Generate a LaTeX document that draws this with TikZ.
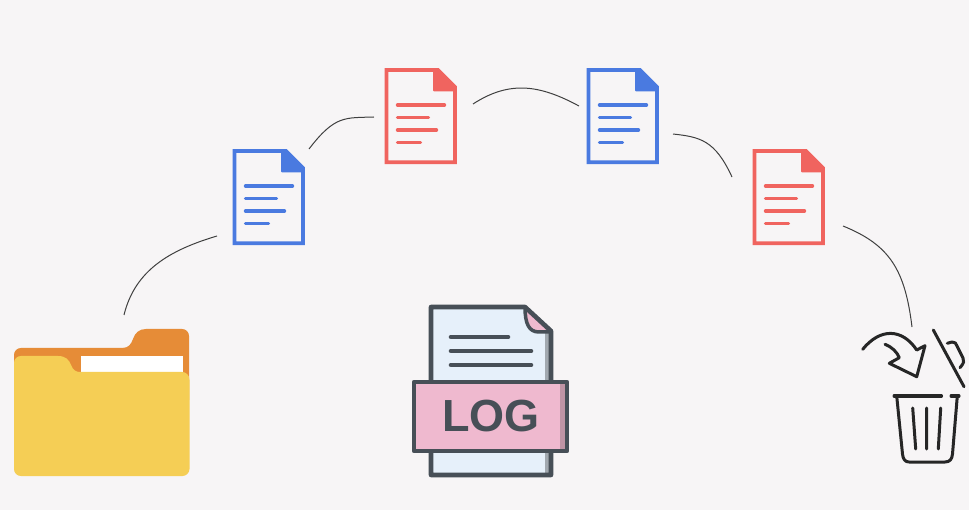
\documentclass[tikz,border=0pt]{standalone}
\usepackage{fontspec}
\setsansfont{Liberation Sans}
\definecolor{paper}{HTML}{F7F5F6}
\definecolor{docblue}{HTML}{4A7AE0}
\definecolor{docred}{HTML}{F0645F}
\definecolor{folderback}{HTML}{E68C37}
\definecolor{folderfront}{HTML}{F5CE55}
\definecolor{logdark}{HTML}{474F57}
\definecolor{logpaper}{HTML}{E6F0FA}
\definecolor{logpink}{HTML}{EFB9CF}
\tikzset{link/.style={draw=black!75,line width=1pt},
         binline/.style={draw=black!85,line width=3pt,line cap=round,line join=round},
         logline/.style={draw=logdark,line width=4.6pt,line cap=round,line join=round},
         docicon/.pic={
           \coordinate (-box) at (35.5,47);
           \draw[#1,line width=3.8pt,line join=miter] (1.5,1.5) -- (53,1.5) -- (70,18.5) -- (70,93.8) -- (1.5,93.8) -- cycle;
           \fill[#1,rounded corners=1pt] (48,0) -- (53,0) -- (71.5,18) -- (71.5,23) -- (48,23) -- cycle;
           \foreach \yy/\xx in {36.5/59.5,49/43.5,61.5/51.5,74/35.5}
             {\draw[#1,line width=3.4pt,line cap=round] (12.5,\yy) -- (\xx,\yy);}
         }}
\begin{document}
\begin{tikzpicture}[x=1pt,y=-1pt]
\fill[paper] (0,0) rectangle (969,510);
\useasboundingbox (0,0) rectangle (969,510);

%%four pages on the arc
\pic (docA) at (233,149.5) {docicon=docblue};
\pic (docB) at (385,68.5) {docicon=docred};
\pic (docC) at (587,68.5) {docicon=docblue};
\pic (docD) at (753,149.5) {docicon=docred};

%%folder
\fill[folderback] (14,400) -- (14,355) .. controls (14,351) and (17,348) .. (21,348) -- (122,348) .. controls (129,348) and (131,344) .. (133,339) .. controls (135,333) and (139,329) .. (146,329) -- (182,329) .. controls (186,329) and (189,332) .. (189,336) -- (189,400) -- cycle;
\fill[white] (80.5,356.5) rectangle (182.5,373);
\fill[folderfront] (14,469) -- (14,363) .. controls (14,359) and (17,356) .. (21,356) -- (58,356) .. controls (66,356) and (69,360) .. (71,365) .. controls (73,370) and (76,372) .. (80,372) -- (182,372) .. controls (186,372) and (189.5,375) .. (189.5,380) -- (189.5,469) .. controls (189.5,473) and (186,476) .. (182.5,476) -- (21,476) .. controls (17,476) and (14,473) .. (14,469) -- cycle;
\coordinate (folder) at (101,329);

%%log file
\fill[logpaper] (431,307) -- (525,307) -- (551,331) -- (551,475) -- (431,475) -- cycle;
\fill[black!30!logpaper] (545,331) rectangle (551,475);
\fill[logpink] (525,307) -- (551,331) -- (536,331) .. controls (529,330) and (525,324) .. (525,307);
\draw[logline] (431,307) -- (525,307) -- (551,331) -- (551,475) -- (431,475) -- cycle;
\draw[logline,line width=3.5pt] (525,307) .. controls (525,324) and (529,332) .. (539,332) -- (551,332);
\foreach \yy/\xx in {337/508,351/531,365/531}
  {\draw[logline] (451,\yy) -- (\xx,\yy);}
\fill[logpink] (414,382) rectangle (567,451);
\fill[black!20!logpink] (560,382) rectangle (567,451);
\draw[logline] (414,382) rectangle (567,451);
\node[text=logdark,font=\sffamily\bfseries\fontsize{45}{45}\selectfont,inner sep=0] (logtext) at (491,416) {LOG};

%%recycle bin
\draw[binline] (894,396) -- (941.5,396) (951,396) -- (959,396);
\draw[binline] (896.7,396) -- (902.5,454) .. controls (903,459) and (905,462) .. (909,462) -- (945,462) .. controls (950,462) and (952,459) .. (952.5,454) -- (957.3,396);
\draw[binline] (912.7,408) -- (915.7,449) (926.7,408) -- (926.7,449) (940.7,408) -- (938.3,449);
\draw[binline] (933.3,330) -- (964,386.7);
\draw[binline] (947.3,343.3) -- (952,342) .. controls (955,342) and (956,343) .. (957,346) -- (963,358) .. controls (964.5,361) and (964,363) .. (960,367.7);
\draw[binline] (862.7,349.3) .. controls (880,328) and (902,328) .. (916.7,350) -- (925,345.7) -- (916.7,376.7) -- (889.3,363.3) -- (899.3,357.7) .. controls (897,352) and (892,347) .. (885,344.3);
\coordinate (bin) at (926,330);

%%connectors
\draw[link] ([shift={(23,-14)}]folder) .. controls (135,270) and (170,250) .. ([shift={(-51.5,39.5)}]docA-box);
\draw[link] ([shift={(40.5,-47.5)}]docA-box) .. controls (335,115) and (345,118) .. ([shift={(-46.5,1.5)}]docB-box);
\draw[link] ([shift={(52.5,-11.5)}]docB-box) .. controls (510,80) and (540,85) .. ([shift={(-43.5,-9.5)}]docC-box);
\draw[link] ([shift={(50.5,18.5)}]docC-box) .. controls (700,137) and (715,140) .. ([shift={(-56.5,-19.5)}]docD-box);
\draw[link] ([shift={(54.5,29.5)}]docD-box) .. controls (890,245) and (905,270) .. ([shift={(-14,-3)}]bin);
\end{tikzpicture}
\end{document}
